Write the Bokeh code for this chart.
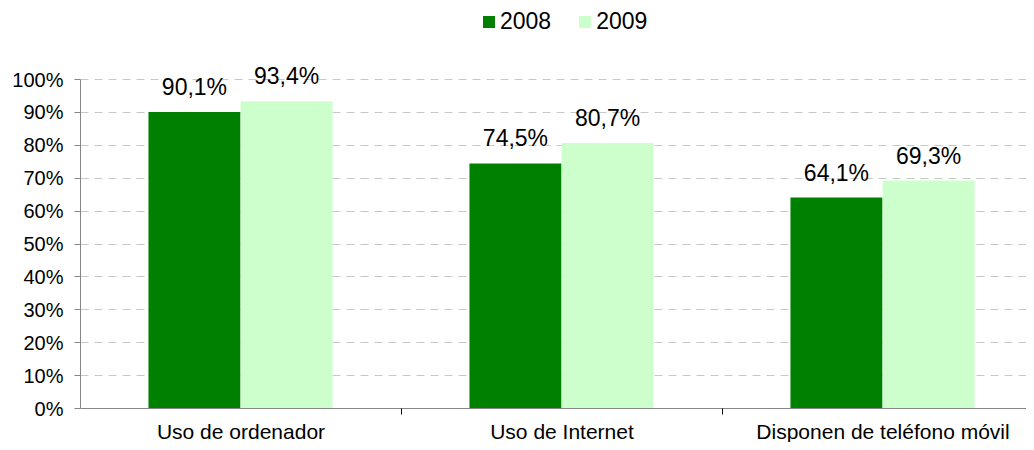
from bokeh.plotting import figure
from bokeh.models import (ColumnDataSource, FixedTicker, PrintfTickFormatter, LabelSet,
                          Legend, LegendItem, Range1d)
from bokeh.core.properties import value
from bokeh.embed import file_html
from bokeh.resources import INLINE

categories = ["Uso de ordenador", "Uso de Internet", "Disponen de teléfono móvil"]
years = ["2008", "2009"]
values_2008 = [90.1, 74.5, 64.1]
values_2009 = [93.4, 80.7, 69.3]
y_ticks = [0, 10, 20, 30, 40, 50, 60, 70, 80, 90, 100]

c2008 = "#008000"
c2009 = "#CCFFCC"
FONT = "Liberation Sans"

idx = list(range(len(categories)))
bar_w = 0.2866
off1 = 0.355
off2 = 0.642

def fmt(v):
    return f"{v:.1f}".replace(".", ",") + "%"

src1 = ColumnDataSource(dict(x=[i + off1 for i in idx], top=values_2008,
                             lab=[fmt(v) for v in values_2008]))
src2 = ColumnDataSource(dict(x=[i + off2 for i in idx], top=values_2009,
                             lab=[fmt(v) for v in values_2009]))

PX = 3.29  # pixels per percentage point
p = figure(width=1026, height=442, output_backend="svg", toolbar_location=None,
           x_range=Range1d(0, 946 / 321), y_range=Range1d(-34 / PX, 408 / PX),
           min_border_left=80, min_border_right=0, min_border_top=0, min_border_bottom=0)
p.outline_line_color = None
p.background_fill_color = "white"
p.border_fill_color = "white"

r1 = p.vbar(x="x", top="top", bottom=0, width=bar_w, source=src1, fill_color=c2008, line_color=None)
r2 = p.vbar(x="x", top="top", bottom=0, width=bar_w, source=src2, fill_color=c2009, line_color=None)

for s in (src1, src2):
    p.add_layout(LabelSet(x="x", y="top", text="lab", source=s, text_align="center",
                          text_baseline="alphabetic", y_offset=17, text_font=value(FONT),
                          text_font_size="23px", text_color="black"))

# y axis
p.yaxis.ticker = FixedTicker(ticks=y_ticks)
p.yaxis.bounds = (0, 100)
p.yaxis.formatter = PrintfTickFormatter(format="%d%%")
p.yaxis.major_label_text_font = FONT
p.yaxis.major_label_text_font_size = "20px"
p.yaxis.major_label_text_color = "black"
p.yaxis.major_tick_out = 6
p.yaxis.major_tick_in = 0
p.yaxis.minor_tick_out = 0
p.yaxis.minor_tick_in = 0
p.yaxis.major_label_standoff = 11
p.yaxis.axis_line_color = "#868686"
p.yaxis.major_tick_line_color = "#868686"

# x axis, pinned at 0%
p.xaxis.fixed_location = 0
p.xaxis.ticker = FixedTicker(ticks=[i + 0.5 for i in idx], minor_ticks=[1, 2])
p.xaxis.major_label_overrides = {i + 0.5: c for i, c in zip(idx, categories)}
p.xaxis.major_label_text_font = FONT
p.xaxis.major_label_text_font_size = "21px"
p.xaxis.major_label_text_color = "black"
p.xaxis.major_tick_out = 0
p.xaxis.major_tick_in = 0
p.xaxis.minor_tick_out = 6
p.xaxis.minor_tick_in = 0
p.xaxis.minor_tick_line_color = "black"
p.xaxis.major_label_standoff = 5
p.xaxis.axis_line_color = "#868686"

p.xgrid.visible = False
p.ygrid.ticker = FixedTicker(ticks=y_ticks[1:])
p.ygrid.grid_line_color = "#C8C8C8"
p.ygrid.grid_line_dash = "8 6"
p.ygrid.grid_line_width = 1

legend = Legend(items=[LegendItem(label=years[0], renderers=[r1]),
                       LegendItem(label=years[1], renderers=[r2])],
                location=(401, 407), orientation="horizontal",
                glyph_width=15, glyph_height=15, label_standoff=4, spacing=26,
                padding=0, margin=0, border_line_color=None, background_fill_alpha=0,
                label_text_font=FONT, label_text_font_size="23px", label_text_color="black")
p.add_layout(legend)

open("out.html", "w").write(file_html(p, INLINE))
